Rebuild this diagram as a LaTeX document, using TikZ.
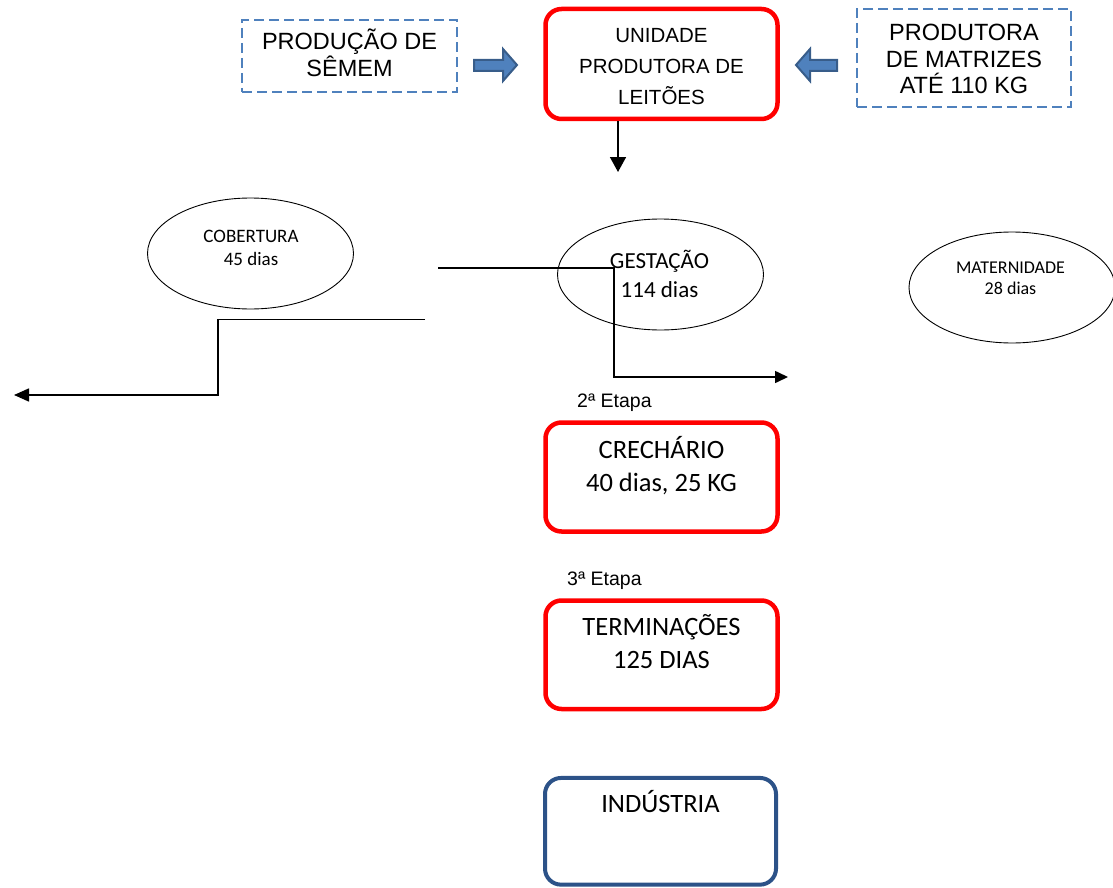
\documentclass[tikz,border=0pt]{standalone}
\usepackage{fontspec}
\newfontfamily\arialf{Liberation Sans}
\newfontfamily\calf{Carlito}
\usetikzlibrary{shapes.geometric,arrows.meta}
\definecolor{dashblue}{RGB}{79,129,189}
\definecolor{arrowfill}{RGB}{79,129,189}
\definecolor{arrowdraw}{RGB}{56,93,138}
\definecolor{boxred}{RGB}{255,0,0}
\definecolor{indblue}{RGB}{44,82,136}
\begin{document}
\begin{tikzpicture}[x=1pt,y=-1pt,
 dashbox/.style={draw=dashblue, line width=2.5pt, dash pattern=on 10pt off 5pt, inner sep=0pt, rectangle},
 redbox/.style={draw=boxred, line width=4.5pt, rounded corners=16pt, inner sep=0pt, minimum width=232pt},
 bluebox/.style={draw=indblue, line width=4pt, rounded corners=16pt, inner sep=0pt, minimum width=231pt},
 oval/.style={draw, ellipse, line width=0.9pt, minimum width=206pt, minimum height=111pt, inner sep=0pt},
 conn/.style={draw, line width=1.6pt},
 blockarrow/.style={fill=arrowfill, draw=arrowdraw, line width=2pt, line join=miter},
 toptext/.style={font=\arialf\fontsize{23.5}{26.5}\selectfont, align=center, inner sep=0pt},
 boxtext/.style={font=\calf\fontsize{26.5}{33}\selectfont, align=center, inner sep=0pt},
 etapa/.style={font=\arialf\fontsize{19.5}{23}\selectfont, inner sep=0pt, anchor=base west}
]
\useasboundingbox (0,0) rectangle (1113,888);

% top row
\node[dashbox, minimum width=215pt, minimum height=72pt] (semen) at (349.5,56) {};
\node[toptext] (semenT) at (349.5,53) {PRODUÇÃO DE\\SÊMEM};

\node[redbox, minimum height=110pt] (unid) at (661.5,64) {};
\node[font=\arialf\fontsize{20.5}{31}\selectfont, align=center, inner sep=0pt] (unidT) at (661.5,66.5) {UNIDADE\\PRODUTORA DE\\LEITÕES};

\node[dashbox, minimum width=214pt, minimum height=98pt] (matr) at (964,58) {};
\node[toptext] (matrT) at (964,59) {PRODUTORA\\DE MATRIZES\\ATÉ 110 KG};

\draw[blockarrow] (474,60) -- (503,60) -- (503,49) -- (517,65) -- (503,81) -- (503,71) -- (474,71) -- cycle;
\draw[blockarrow] (837,60) -- (810,60) -- (810,49) -- (796,65) -- (810,81) -- (810,71) -- (837,71) -- cycle;

\coordinate (d1) at (618,172);
\draw[conn, -{Triangle[length=15pt,width=16pt]}] (d1 |- unid.south) -- (d1);

% ellipses
\node[oval] (cob) at (250.5,253.5) {};
\node[font=\calf\fontsize{19}{23}\selectfont, align=center, inner sep=0pt] (cobT) at (251,247.5) {COBERTURA\\45 dias};

\node[oval] (gest) at (660.5,274.5) {};
\node[font=\calf\fontsize{23}{28.7}\selectfont, align=center, inner sep=0pt] (gestT) at (659.5,274) {GESTAÇÃO\\114 dias};

\node[oval] (mat) at (1012,287.5) {};
\node[font=\calf\fontsize{18}{21.7}\selectfont, align=center, inner sep=0pt] (matT) at (1010.5,278.3) {MATERNIDADE\\28 dias};

% connectors
\coordinate (c1s) at (438,268);
\coordinate (c1e) at (788,377);
\draw[conn, -{Triangle[length=13pt,width=12pt]}] (c1s) -- ++(176,0) |- (c1e);

\coordinate (c2s) at (425,319.5);
\coordinate (c2e) at (14,395);
\draw[conn, -{Triangle[length=15pt,width=13pt]}] (c2s) -- (218,319.5) |- (c2e);

% stages
\node[etapa] (et2) at (577,407) {2ª Etapa};
\node[redbox, minimum height=109pt] (crech) at (661.5,477) {};
\node[boxtext] (crechT) at (661.5,466) {CRECHÁRIO\\40 dias, 25 KG};

\node[etapa] (et3) at (567,585) {3ª Etapa};
\node[redbox, minimum height=108.5pt] (term) at (661.5,654.75) {};
\node[boxtext] (termT) at (661.5,642) {TERMINAÇÕES\\125 DIAS};

\node[bluebox, minimum height=106.7pt] (ind) at (660.5,831.3) {};
\node[boxtext] (indT) at (660.5,802) {INDÚSTRIA};
\end{tikzpicture}
\end{document}
